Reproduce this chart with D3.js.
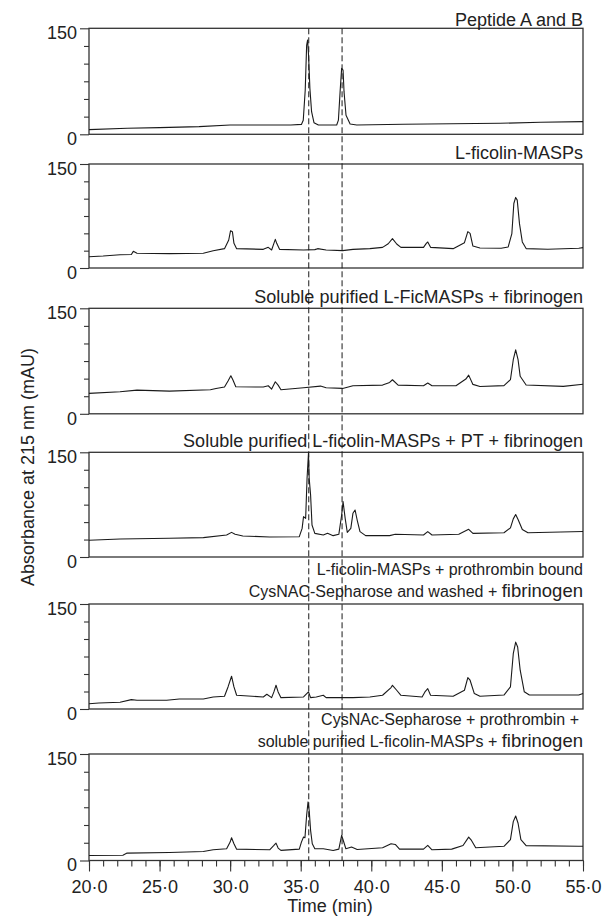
<!DOCTYPE html>
<html>
<head>
<meta charset="utf-8">
<script src="https://cdn.jsdelivr.net/npm/d3@7"></script>
<style>
  body { margin: 0; background: #fff; }
  svg text { font-family: "Liberation Sans", Arial, sans-serif; fill: #222; }
</style>
</head>
<body>
<div id="chart"></div>
<script>
// ---- data: [time (min), absorbance (mAU)]

var peptideAB = [[20,6.6],[22.7,8.5],[25,9.5],[27.8,10.8],[30,13.2],[34.3,13.2],[35.05,14],[35.18,20],[35.32,62.7],
  [35.42,126],[35.49,133.5],[35.56,110],[35.65,65],[35.77,32],[35.94,16.5],[36.25,13.2],[37.55,13.2],[37.67,20],
  [37.79,60],[37.9,93.4],[38.0,91],[38.07,60],[38.21,27],[38.5,14.6],[38.97,13.2],[42.27,14.2],[49.12,15.6],
  [52,17],[55,17.9]];

var lFicolinMasps = [[20,16.3],[21,17.3],[22.2,19.2],[23.0,19.5],[23.14,24],[23.4,21.2],[25.7,20.7],[28.1,21.2],
  [28.8,25],[29.6,27.9],[29.9,40.4],[30.03,53.8],[30.16,52.4],[30.27,35.6],[30.46,27.9],[32.35,26.9],[32.7,29.8],
  [32.94,26],[33.1,35.6],[33.2,41.3],[33.3,35.6],[33.5,26.9],[35.2,26],[36.0,26.5],[36.2,27.9],[36.8,26],
  [37.97,25],[38.7,26.9],[39.9,27.9],[40.8,29.8],[41.2,35],[41.5,42.3],[41.8,34.6],[42.1,29.8],[43.7,29.8],
  [43.9,35.6],[44.0,37.5],[44.2,29.8],[45.8,27.9],[46.6,36.5],[46.84,52.4],[47.0,50],[47.2,31.7],[47.7,28.8],
  [49.2,28.5],[49.7,30.4],[49.96,49.7],[50.1,93],[50.23,101.8],[50.34,97.9],[50.5,64],[50.7,37.6],[50.97,28],
  [52.5,27],[54.7,28.5],[55,29.4]];

var solubleFib = [[20,29],[22.2,31.3],[23.4,33.7],[25.7,32.3],[28.6,34.2],[29.0,36],[29.6,38],[29.85,46.5],
  [30.05,54.1],[30.2,48],[30.4,38.5],[32.35,38],[32.7,39.9],[32.94,35.1],[33.2,45.6],[33.4,40.8],[33.6,34.2],
  [35.2,37],[36.4,39.4],[36.8,37],[37.97,36.1],[38.7,39.9],[40.8,40.8],[41.3,44.6],[41.5,48.4],[41.9,40.8],
  [43.7,39.9],[44.0,43.7],[44.3,39.9],[46.0,39.9],[46.7,49.4],[46.9,55],[47.2,41.8],[47.7,38.9],[49.4,40],
  [49.86,48.6],[50.06,76.9],[50.23,91],[50.4,76.9],[50.55,53.3],[50.97,41],[53.6,39],[55,42]];

var solublePtFib = [[20,23.9],[22.2,25.8],[25.7,26.8],[28.1,27.7],[29.75,31.5],[30.1,35.3],[30.35,32.5],[30.9,30.1],
  [32.8,28.7],[34.9,29.1],[35.1,41],[35.2,57.8],[35.35,55.4],[35.45,112.7],[35.55,148.6],[35.6,112.7],[35.7,88.9],
  [35.8,45.9],[36.0,33.9],[36.6,31.5],[36.9,33.9],[37.3,30.6],[37.7,32.5],[37.9,60.2],[38.0,79.3],[38.15,55.4],
  [38.3,35.3],[38.55,41],[38.7,62.6],[38.85,67.4],[39.0,53],[39.2,36.3],[39.6,30.6],[41.3,30.6],[41.7,32.5],
  [43.7,31.5],[44.0,36.3],[44.3,31.5],[46.2,32.5],[46.9,39.6],[47.2,33.9],[49.4,34.7],[49.86,41.8],[50.06,54.6],
  [50.23,60.8],[50.4,53.6],[50.7,39.4],[51.1,34.7],[55,36.6]];

var boundWashedFib = [[20,7.6],[20.7,8.6],[22.2,9.6],[23.0,13.4],[23.4,12.4],[25.5,12.4],[26.4,14.3],[28.1,14.3],
  [28.8,17.2],[29.6,18.2],[29.85,31.5],[30.1,46.8],[30.27,31.5],[30.46,19.6],[32.35,17.2],[32.6,21],[32.94,16.2],
  [33.1,24.4],[33.25,33.9],[33.4,24.4],[33.6,16.2],[35.2,17.2],[35.55,24.4],[35.7,16.2],[36.1,17.2],[36.6,19.6],
  [36.8,16.2],[38.7,16.2],[39.9,17.2],[40.8,19.6],[41.4,30.6],[41.5,33.9],[41.8,26.8],[42.1,19.6],[43.6,17.2],
  [43.8,24.4],[44.0,29.1],[44.2,19.6],[45.8,18.2],[46.6,26.8],[46.84,44.9],[47.0,41.1],[47.3,22],[47.7,18.2],
  [49.4,19.9],[49.86,31.7],[50.06,79],[50.23,95.6],[50.37,88.5],[50.55,55.4],[50.84,24.6],[51.2,19.9],
  [54.7,19.9],[55,22.2]];

var sepharoseMixFib = [[20,7.1],[22.4,7.5],[22.7,10.4],[25.7,11.3],[28.1,12.7],[28.8,15.1],[29.75,16.5],[30.0,25.9],
  [30.1,32.1],[30.27,23.6],[30.46,16],[32.8,15.1],[33.1,21.2],[33.25,24.5],[33.4,17.5],[33.6,14.2],[34.9,16],
  [35.05,25.9],[35.2,33],[35.3,32.1],[35.42,63.7],[35.52,82.5],[35.6,70.8],[35.7,42.5],[35.82,23.6],[36.0,16.5],
  [36.6,16.5],[37.3,14.2],[37.7,16],[37.9,35.4],[38.0,29.2],[38.2,16.5],[38.6,18.9],[39.0,15.6],[40.8,17.9],
  [41.4,23.6],[41.7,22.6],[42.0,16],[43.7,16],[44.0,21.2],[44.3,15.1],[45.7,16],[46.5,21.2],[46.9,33],[47.1,28.3],
  [47.4,17.9],[49.4,20],[49.86,29.3],[50.06,54.8],[50.23,62.7],[50.4,52.5],[50.6,29.3],[50.97,20.9],[54.7,20],[55,20]];

var traces = [peptideAB, lFicolinMasps, solubleFib, solublePtFib, boundWashedFib, sepharoseMixFib];

var panelTitles = [
  ["Peptide A and B"],
  ["L-ficolin-MASPs"],
  ["Soluble purified L-FicMASPs + fibrinogen"],
  ["Soluble purified L-ficolin-MASPs + PT + fibrinogen"],
  ["L-ficolin-MASPs + prothrombin bound", "CysNAC-Sepharose and washed + fibrinogen"],
  ["CysNAc-Sepharose + prothrombin +", "soluble purified L-ficolin-MASPs + fibrinogen"]
];

var xMajorTicks = [20, 25, 30, 35, 40, 45, 50, 55];
var xMinorTicks = d3.range(20, 56, 1);
var yMajorTicks = [0, 150];
var yMinorTicks = [25, 50, 75, 100, 125];
var markerTimes = [35.57, 37.93];   // dashed reference lines (peptide A, B)

// ---- layout
var W = 614, H = 918;
var left = 89, right = 583;
var tops = [28.3, 164, 308.3, 452.3, 604, 754];
var bottoms = [134.3, 268, 413.8, 557, 709, 860.5];

var svg = d3.select("#chart").append("svg")
  .attr("width", W).attr("height", H);

var x = d3.scaleLinear().domain([20, 55]).range([left, right]);

var line = d3.line()
  .x(function(d) { return x(d[0]); });

traces.forEach(function(tr, i) {
  var y = d3.scaleLinear().domain([0, 150]).range([bottoms[i], tops[i]]);
  var g = svg.append("g");

  // minor y ticks
  g.append("g")
    .attr("transform", "translate(" + left + ",0)")
    .call(d3.axisLeft(y).tickValues(yMinorTicks).tickSize(5).tickFormat(""))
    .call(function(a) { a.select(".domain").remove(); });

  // major y ticks with labels
  var ya = g.append("g")
    .attr("transform", "translate(" + left + ",0)")
    .call(d3.axisLeft(y).tickValues(yMajorTicks).tickSize(9).tickPadding(3));
  ya.select(".domain").remove();
  ya.selectAll("text").attr("dy", "0.57em")
    .style("font-size", "18px").style("font-family", null).attr("fill", "#222");

  g.selectAll(".tick line").attr("stroke", "#333").attr("stroke-width", 1.1);

  // frame
  g.append("rect")
    .attr("x", left).attr("y", tops[i])
    .attr("width", right - left).attr("height", bottoms[i] - tops[i])
    .attr("fill", "none").attr("stroke", "#333").attr("stroke-width", 1.3);

  // trace
  line.y(function(d) { return y(d[1]); });
  g.append("path")
    .datum(tr)
    .attr("d", line)
    .attr("fill", "none")
    .attr("stroke", "#1a1a1a")
    .attr("stroke-width", 1.1)
    .attr("stroke-linejoin", "round");

  // title(s), right aligned above the frame
  var lines = panelTitles[i];
  lines.forEach(function(txt, j) {
    var baseY = tops[i] - (lines.length - 1 - j) * 21.5 - (lines.length > 1 ? 7.5 : (i == 0 ? 2.5 : 4.5 + i * 0.3));
    var t = g.append("text")
      .attr("x", (i == 5 && j == 0) ? right - 4 : right)
      .attr("y", baseY)
      .attr("text-anchor", "end");
    if (lines.length > 1) {
      var k = txt.lastIndexOf("fibrinogen");
      if (k >= 0) {
        t.append("tspan").style("font-size", "16px").text(txt.slice(0, k));
        t.append("tspan").style("font-size", "18.5px").text("fibrinogen");
      } else {
        t.style("font-size", "16px").text(txt);
      }
    } else {
      t.style("font-size", "18px").text(txt);
    }
  });

  // x axis on the last panel
  if (i == traces.length - 1) {
    g.append("g")
      .attr("transform", "translate(0," + bottoms[i] + ")")
      .call(d3.axisBottom(x).tickValues(xMinorTicks).tickSize(6).tickFormat(""))
      .call(function(a) { a.select(".domain").remove(); })
      .selectAll("line").attr("stroke", "#333").attr("stroke-width", 1.1);
    var xa = g.append("g")
      .attr("transform", "translate(0," + bottoms[i] + ")")
      .call(d3.axisBottom(x).tickValues(xMajorTicks).tickSize(11)
        .tickFormat(function(d) { return d.toFixed(1).replace(".", "\u00b7"); }));
    xa.select(".domain").remove();
    xa.selectAll("line").attr("stroke", "#333").attr("stroke-width", 1.1);
    xa.selectAll("text").attr("y", 893 - bottoms[i]).attr("dy", 0)
      .style("font-size", "18px").style("font-family", null).attr("fill", "#222");
  }
});

// dashed markers through all panels
svg.selectAll(".marker")
  .data(markerTimes)
  .enter().append("line")
  .attr("class", "marker")
  .attr("x1", function(d) { return x(d); })
  .attr("x2", function(d) { return x(d); })
  .attr("y1", tops[0])
  .attr("y2", bottoms[bottoms.length - 1])
  .attr("stroke", "#1a1a1a")
  .attr("stroke-width", 1)
  .attr("stroke-dasharray", "6,3");

// axis titles
svg.append("text")
  .attr("transform", "translate(34,467) rotate(-90)")
  .attr("text-anchor", "middle")
  .style("font-size", "18px")
  .text("Absorbance at 215 nm (mAU)");

svg.append("text")
  .attr("x", (left + right) / 2 - 6)
  .attr("y", 912)
  .attr("text-anchor", "middle")
  .style("font-size", "18px")
  .text("Time (min)");
</script>
</body>
</html>
